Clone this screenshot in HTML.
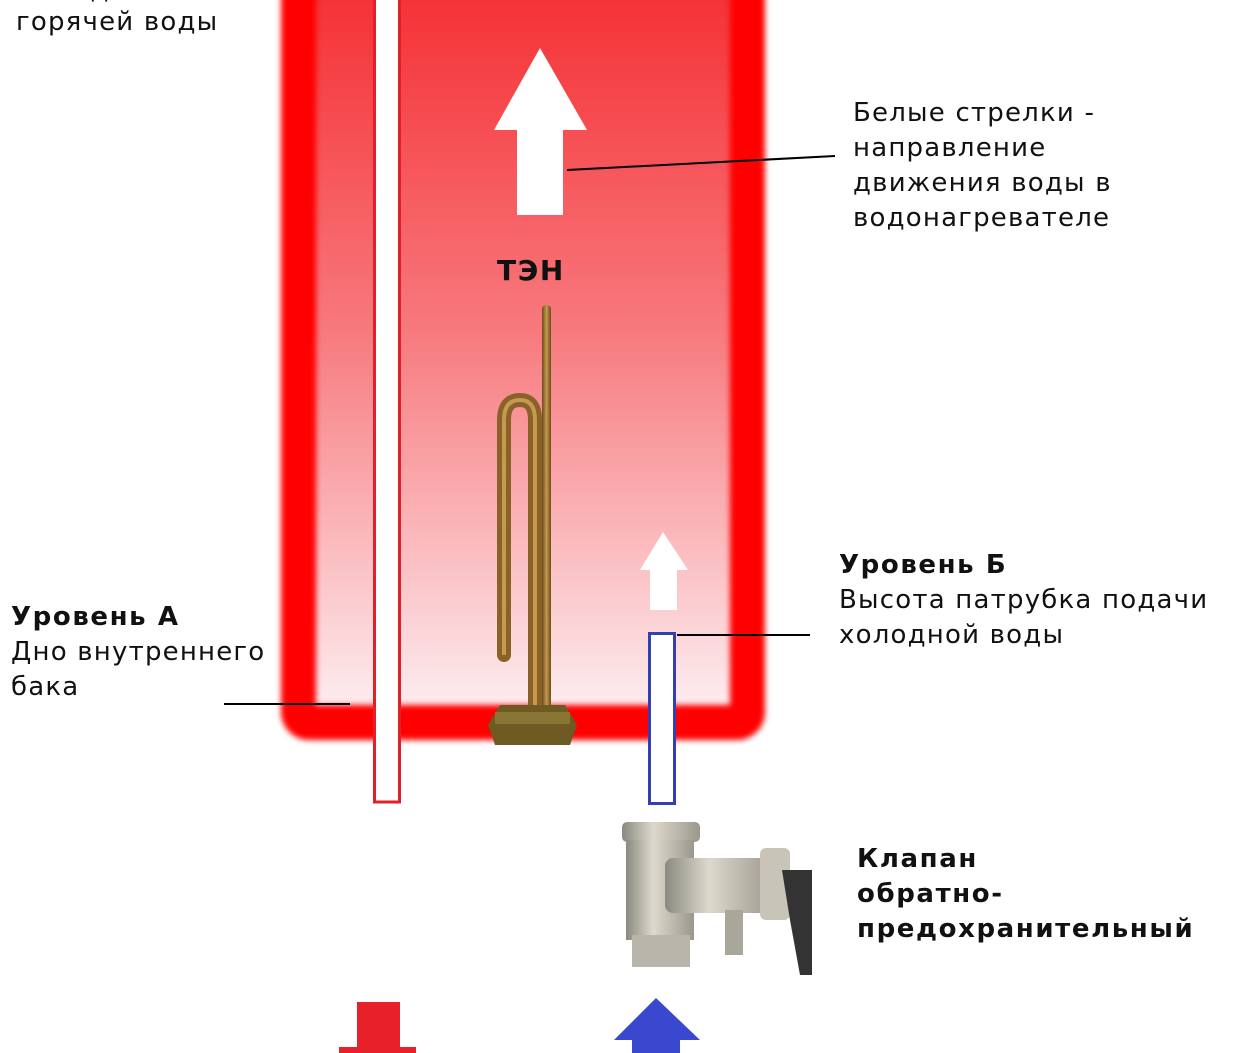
<!DOCTYPE html>
<html><head><meta charset="utf-8"><style>
body{margin:0;width:1252px;height:1053px;background:#fff;position:relative;overflow:hidden;font-family:"DejaVu Sans","Liberation Sans",sans-serif;color:#111}
.t{position:absolute;font-size:26px;line-height:35px;white-space:nowrap;letter-spacing:1.2px}
b{font-weight:bold;letter-spacing:1.6px}
</style></head><body>
<svg width="1252" height="1053" style="position:absolute;left:0;top:0">
<defs>
<linearGradient id="g" x1="0" y1="0" x2="0" y2="1">
<stop offset="0" stop-color="#f42a2e"/><stop offset="0.5" stop-color="#f77a7e"/><stop offset="1" stop-color="#fdecef"/></linearGradient>
<filter id="bl"><feGaussianBlur stdDeviation="3"/></filter>
<linearGradient id="cu" x1="0" y1="0" x2="1" y2="0"><stop offset="0" stop-color="#6b4a1c"/><stop offset="0.5" stop-color="#c59a4c"/><stop offset="1" stop-color="#6b4a1c"/></linearGradient>
<linearGradient id="ni" x1="0" y1="0" x2="1" y2="0"><stop offset="0" stop-color="#8a8a80"/><stop offset="0.4" stop-color="#ddd9cc"/><stop offset="1" stop-color="#9a978c"/></linearGradient>
</defs>
<rect x="281" y="-40" width="484" height="780" rx="28" fill="#f00" filter="url(#bl)"/>
<rect x="316" y="-40" width="414" height="745" fill="url(#g)" filter="url(#bl)"/>
<rect x="374.5" y="-5" width="25" height="807" fill="#fff" stroke="#e3202a" stroke-width="3"/>
<rect x="649.5" y="633.5" width="25" height="170" fill="#fff" stroke="#3440b0" stroke-width="3"/>
<polygon points="540,48 587,130 563,130 563,215 517,215 517,130 494,130" fill="#fff"/>
<polygon points="663,532 688,570 677,570 677,610 650,610 650,570 640,570" fill="#fff"/>
<line x1="567" y1="170" x2="835" y2="156" stroke="#000" stroke-width="2"/>
<line x1="224" y1="704" x2="350" y2="704" stroke="#000" stroke-width="2"/>
<line x1="677" y1="635" x2="810" y2="635" stroke="#000" stroke-width="2"/>
<rect x="542" y="305" width="9" height="405" rx="4" fill="url(#cu)"/>
<path d="M504,655 L504,420 Q504,400 520,400 Q535,400 535,420 L535,710" fill="none" stroke="#8a6228" stroke-width="14" stroke-linecap="round"/>
<path d="M504,655 L504,420 Q504,400 520,400 Q535,400 535,420 L535,710" fill="none" stroke="#c39a50" stroke-width="4"/>
<polygon points="500,705 565,705 577,725 570,745 495,745 488,725" fill="#6e5a22"/>
<rect x="495" y="712" width="75" height="12" fill="#8a7634"/>
<rect x="622" y="822" width="78" height="20" rx="5" fill="url(#ni)"/>
<rect x="626" y="840" width="68" height="100" fill="url(#ni)"/>
<rect x="632" y="935" width="58" height="32" fill="#b8b5aa"/>
<rect x="665" y="858" width="110" height="55" rx="8" fill="url(#ni)"/>
<rect x="760" y="848" width="30" height="72" rx="6" fill="#c8c5b8"/>
<polygon points="782,870 812,870 812,975 800,975 790,920" fill="#333"/>
<rect x="725" y="910" width="18" height="45" fill="#a9a69a"/>
<polygon points="357,1002 400,1002 400,1047 416,1047 416,1053 339,1053 339,1047 357,1047" fill="#e8202a"/>
<polygon points="656,998 700,1040 680,1040 680,1053 632,1053 632,1040 614,1040" fill="#3a48d0"/>
</svg>
<div class="t" style="left:16px;top:-27px">Выход</div>
<div class="t" style="left:16px;top:5px">горячей воды</div>
<div class="t" style="left:853px;top:96px">Белые стрелки -<br>направление<br>движения воды в<br>водонагревателе</div>
<div class="t" style="left:497px;top:253px;font-size:28px"><b>ТЭН</b></div>
<div class="t" style="left:839px;top:548px"><b>Уровень Б</b><br>Высота патрубка подачи<br>холодной воды</div>
<div class="t" style="left:11px;top:600px"><b>Уровень А</b><br>Дно внутреннего<br>бака</div>
<div class="t" style="left:857px;top:842px"><b>Клапан<br>обратно-<br>предохранительный</b></div>
</body></html>
